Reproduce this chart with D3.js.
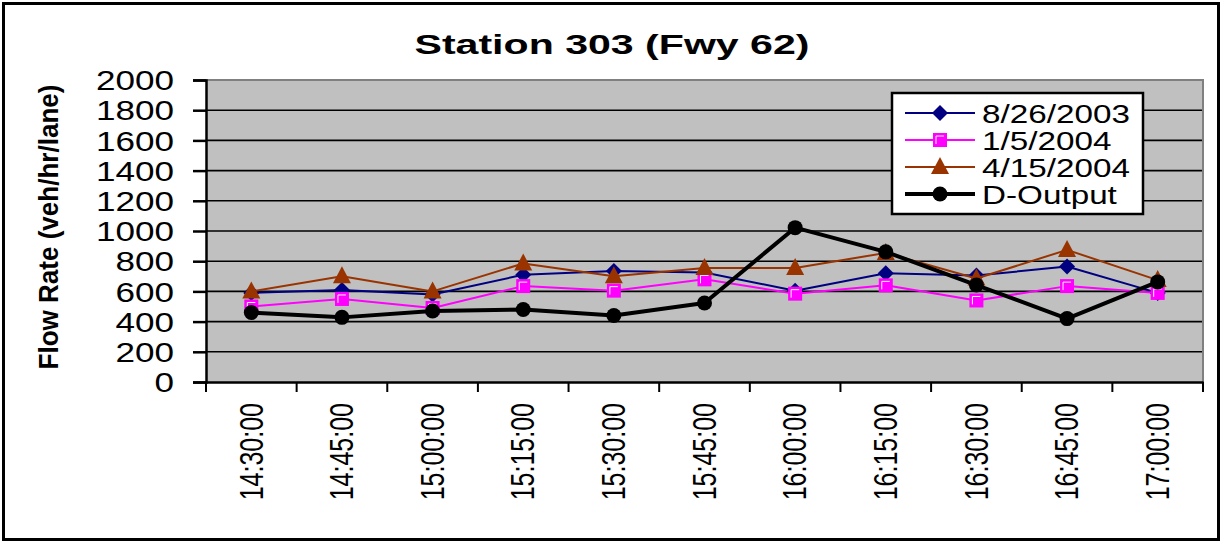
<!DOCTYPE html>
<html>
<head>
<meta charset="utf-8">
<script src="https://cdn.jsdelivr.net/npm/d3@7"></script>
<style>
  html, body { margin: 0; padding: 0; background: #fff; }
  svg { display: block; }
  text { font-family: "Liberation Sans", Arial, sans-serif; fill: #000; }
</style>
</head>
<body>
<svg id="chart" width="1225" height="542"></svg>
<script>
const categories = ["14:30:00","14:45:00","15:00:00","15:15:00","15:30:00","15:45:00","16:00:00","16:15:00","16:30:00","16:45:00","17:00:00"];
const series1Name = "8/26/2003";
const series1 = [590, 610, 580, 710, 735, 725, 605, 720, 705, 765, 590];
const series2Name = "1/5/2004";
const series2 = [500, 550, 490, 635, 605, 680, 585, 640, 540, 635, 590];
const series3Name = "4/15/2004";
const series3 = [600, 700, 600, 785, 700, 755, 755, 855, 685, 875, 675];
const series4Name = "D-Output";
const series4 = [460, 428, 470, 480, 440, 523, 1022, 862, 642, 420, 663];
const yTicks = [0, 200, 400, 600, 800, 1000, 1200, 1400, 1600, 1800, 2000];
const titleText = "Station 303 (Fwy 62)";
const yTitleText = "Flow Rate (veh/hr/lane)";

const svg = d3.select("#chart");
const L = 206, R = 1203, T = 80, B = 382;
const SX = 1.33;

const x = d3.scaleBand().domain(categories).range([L, R]).padding(0);
const y = d3.scaleLinear().domain([0, 2000]).range([B, T]);
const cx = c => x(c) + x.bandwidth() / 2;

// outer border
svg.append("rect").attr("x", 3.5).attr("y", 3.5).attr("width", 1215).attr("height", 536)
  .attr("fill", "#fff").attr("stroke", "#000").attr("stroke-width", 3);

// title
svg.append("text").attr("x", 612).attr("y", 54).attr("text-anchor", "middle")
  .attr("font-size", 27).attr("font-weight", "bold")
  .attr("textLength", 395).attr("lengthAdjust", "spacingAndGlyphs")
  .text(titleText);

// plot background
svg.append("rect").attr("x", L).attr("y", T).attr("width", R - L).attr("height", B - T)
  .attr("fill", "#C0C0C0");

// gridlines
svg.append("g").selectAll("line").data(yTicks.filter(v => v > 0 && v < 2000)).join("line")
  .attr("x1", L).attr("x2", R).attr("y1", d => y(d)).attr("y2", d => y(d))
  .attr("stroke", "#000").attr("stroke-width", 1.6);

// top & right border gray
svg.append("path").attr("d", `M${L},${T}H${R}V${B}`).attr("fill", "none")
  .attr("stroke", "#808080").attr("stroke-width", 2);

// y axis
const yAxis = svg.append("g").attr("transform", `translate(${L},0)`)
  .call(d3.axisLeft(y).tickValues(yTicks).tickSize(13).tickFormat(d3.format("d")));
yAxis.select(".domain").attr("stroke", "#000").attr("stroke-width", 2.5);
yAxis.selectAll(".tick line").attr("stroke", "#000").attr("stroke-width", 2.5);
yAxis.selectAll(".tick text")
  .attr("x", 0).attr("dy", "0.36em")
  .attr("font-size", 27).attr("font-family", "Liberation Sans, Arial, sans-serif")
  .attr("text-anchor", "end")
  .attr("transform", `translate(-32,0) scale(1.3,1)`);

// x axis
const xAxis = svg.append("g").attr("transform", `translate(0,${B})`)
  .call(d3.axisBottom(x).tickSize(0).tickFormat(d => d));
xAxis.select(".domain").attr("stroke", "#000").attr("stroke-width", 2.5);
xAxis.selectAll(".tick text").remove();
const bounds = categories.map(c => x(c)).concat([x.range()[1]]);
svg.append("g").selectAll("line").data(bounds).join("line")
  .attr("x1", d => d).attr("x2", d => d).attr("y1", B).attr("y2", B + 10)
  .attr("stroke", "#000").attr("stroke-width", 2);
svg.append("g").selectAll("text").data(categories).join("text")
  .attr("transform", d => `translate(${cx(d)},403) scale(1.3,1) rotate(-90)`)
  .attr("text-anchor", "end").attr("dominant-baseline", "central")
  .attr("font-size", 25).text(d => d);

// y title
svg.append("text").attr("transform", "translate(58,227) rotate(-90)")
  .attr("text-anchor", "middle").attr("font-size", 27).attr("font-weight", "bold")
  .attr("textLength", 285).attr("lengthAdjust", "spacingAndGlyphs")
  .text(yTitleText);

// markers
function drawMarker(g, type, color) {
  if (type === "diamond") {
    g.append("path").attr("d", "M0,-8L8,0L0,8L-8,0Z").attr("fill", color);
  } else if (type === "square") {
    g.append("rect").attr("x", -7).attr("y", -7).attr("width", 14).attr("height", 14).attr("fill", color);
    g.append("path").attr("d", "M-4,4V-4H4").attr("fill", "none").attr("stroke", "#fff").attr("stroke-width", 1);
  } else if (type === "triangle") {
    g.append("path").attr("d", "M0,-10L9,7H-9Z").attr("fill", color);
  } else if (type === "circle") {
    g.append("circle").attr("r", 7.5).attr("fill", color);
  }
}

const allSeries = [
  { name: series1Name, values: series1, color: "#000080", width: 2, marker: "diamond" },
  { name: series2Name, values: series2, color: "#FF00FF", width: 2, marker: "square" },
  { name: series3Name, values: series3, color: "#993300", width: 2, marker: "triangle" },
  { name: series4Name, values: series4, color: "#000000", width: 4, marker: "circle" }
];

const line = d3.line().x((d, i) => cx(categories[i])).y(d => y(d));
allSeries.forEach(s => {
  svg.append("path").datum(s.values).attr("d", line)
    .attr("fill", "none").attr("stroke", s.color).attr("stroke-width", s.width)
    .attr("stroke-linejoin", "round");
  s.values.forEach((v, i) => {
    const g = svg.append("g").attr("transform", `translate(${cx(categories[i])},${y(v)})`);
    drawMarker(g, s.marker, s.color);
  });
});

// legend
const lg = svg.append("g");
lg.append("rect").attr("x", 892).attr("y", 93).attr("width", 251).attr("height", 121)
  .attr("fill", "#fff").attr("stroke", "#000").attr("stroke-width", 2.5);
allSeries.forEach((s, i) => {
  const yy = 113 + i * 27;
  lg.append("line").attr("x1", 905).attr("x2", 975).attr("y1", yy).attr("y2", yy)
    .attr("stroke", s.color).attr("stroke-width", s.width);
  const g = lg.append("g").attr("transform", `translate(940,${yy})`);
  drawMarker(g, s.marker, s.color);
  lg.append("text").attr("transform", `translate(982,${yy + 1}) scale(${SX},1)`)
    .attr("dominant-baseline", "central").attr("font-size", 25).text(s.name);
});
</script>
</body>
</html>
